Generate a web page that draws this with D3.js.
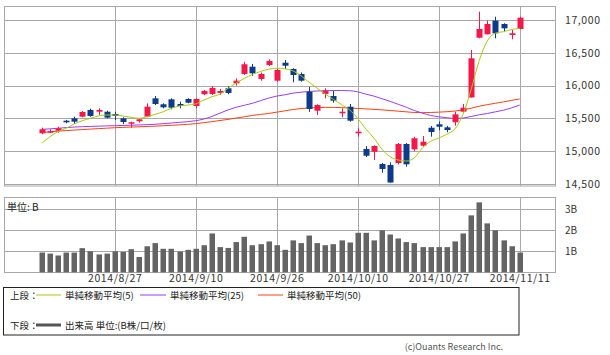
<!DOCTYPE html>
<html><head><meta charset="utf-8">
<script src="https://cdn.jsdelivr.net/npm/d3@7"></script>
<style>
html,body{margin:0;padding:0;background:#fff;}
svg{display:block;}
text{font-family:"Noto Sans CJK JP","Noto Sans",sans-serif;}
</style></head><body>
<svg id="c" width="610" height="355"></svg>
<script>
const dates = ["2014/8/14","2014/8/15","2014/8/18","2014/8/19","2014/8/20","2014/8/21","2014/8/22","2014/8/25","2014/8/26","2014/8/27",
"2014/8/28","2014/8/29","2014/9/1","2014/9/2","2014/9/3","2014/9/4","2014/9/5","2014/9/8","2014/9/9","2014/9/10",
"2014/9/11","2014/9/12","2014/9/16","2014/9/17","2014/9/18","2014/9/19","2014/9/22","2014/9/24","2014/9/25","2014/9/26",
"2014/9/29","2014/9/30","2014/10/1","2014/10/2","2014/10/3","2014/10/6","2014/10/7","2014/10/8","2014/10/9","2014/10/10",
"2014/10/14","2014/10/15","2014/10/16","2014/10/17","2014/10/20","2014/10/21","2014/10/22","2014/10/23","2014/10/24","2014/10/27",
"2014/10/28","2014/10/29","2014/10/30","2014/10/31","2014/11/4","2014/11/5","2014/11/6","2014/11/7","2014/11/10","2014/11/11"];
const opens = [15273,15295,15312,15465,15501,15526,15628,15602,15602,15567,15501,15420,15456,15526,15806,15715,15791,15720,15796,15689,
15868,15872,15888,15959,16035,16177,16288,16101,16314,16075,16349,16253,16177,15907,15617,15872,15841,15578,15678,15273,
15034,14992,14805,14790,14820,15110,15029,15084,15358,15410,15364,15441,15602,15819,16730,16782,16990,16939,16771,16863];
const highs = [15358,15334,15373,15476,15526,15613,15648,15654,15617,15602,15517,15450,15495,15730,15841,15730,15806,15755,15806,15806,
15933,15990,15950,15990,16110,16364,16330,16200,16400,16260,16390,16264,16200,15980,15715,15959,15920,15654,15720,15349,
15079,15090,14820,14830,15125,15125,15220,15232,15384,15450,15384,15602,15720,16543,17127,16990,17050,16950,16848,17050];
const lows = [15258,15282,15282,15425,15415,15517,15526,15552,15501,15476,15415,15358,15435,15517,15704,15654,15639,15654,15730,15654,
15853,15857,15860,15870,16000,16162,16150,16075,16300,16060,16253,16050,16060,15600,15552,15806,15740,15517,15450,15221,
14912,14866,14672,14520,14800,14764,15000,15069,15221,15320,15290,15389,15590,15819,16721,16782,16721,16822,16706,16860];
const closes = [15334,15305,15349,15441,15450,15598,15537,15628,15511,15537,15445,15441,15486,15678,15720,15669,15663,15689,15739,15796,
15918,15964,15918,15888,16075,16325,16187,16177,16375,16238,16303,16162,16075,15643,15704,15922,15770,15602,15465,15298,
14931,15079,14729,14523,15110,14800,15197,15145,15293,15373,15323,15562,15663,16416,16863,16939,16797,16873,16797,17035];
const ma5 = [15120,15221,15298,15349,15415,15465,15501,15537,15552,15552,15537,15517,15501,15526,15562,15602,15654,15689,15704,15720,
15780,15830,15870,15960,16040,16110,16170,16215,16250,16265,16255,16225,16150,16050,15960,15870,15790,15710,15630,15500,
15340,15200,15030,14916,14866,14850,14900,15050,15150,15200,15260,15340,15560,15940,16380,16680,16800,16822,16855,16873];
const ma25 = [15334,15340,15350,15360,15368,15374,15378,15382,15386,15389,15392,15396,15400,15405,15410,15420,15430,15440,15450,15465,
15490,15530,15580,15630,15670,15700,15730,15770,15810,15840,15860,15885,15900,15910,15918,15922,15925,15925,15922,15905,
15870,15840,15800,15760,15715,15670,15620,15580,15545,15525,15510,15500,15505,15530,15555,15575,15600,15625,15660,15704];
const ma50 = [15285,15295,15305,15315,15322,15330,15337,15344,15351,15358,15363,15368,15372,15377,15382,15388,15395,15402,15410,15420,
15435,15450,15468,15485,15505,15525,15545,15560,15575,15595,15615,15635,15650,15660,15665,15668,15668,15665,15658,15652,
15645,15638,15630,15620,15610,15600,15590,15588,15590,15595,15602,15612,15630,15655,15685,15710,15730,15752,15775,15796];
const volumes = [0.94,0.89,0.80,0.94,0.94,1.15,1.00,0.85,0.89,1.00,0.97,1.10,0.73,1.24,1.39,1.12,1.12,0.99,1.07,1.12,
1.29,1.85,1.20,1.16,1.44,1.69,1.29,1.34,1.47,1.29,1.07,1.52,1.39,1.75,1.39,1.29,1.34,1.52,1.42,1.88,
1.88,1.52,2.00,1.80,1.61,1.44,1.39,1.20,1.20,1.20,1.20,1.47,1.85,2.71,3.33,2.33,2.00,1.52,1.24,0.94];
const priceTicks = [14500,15000,15500,16000,16500,17000];
const volumeTicks = [1,2,3];
const dateTicks = ["2014/8/27","2014/9/10","2014/9/26","2014/10/10","2014/10/27","2014/11/11"];

const svg = d3.select("#c");
const L = 4, R = 555;
const x = d3.scaleLinear().domain([0, dates.length - 1]).range([41.8, 519.7]);
const y = d3.scaleLinear().domain([14500, 17000]).range([184, 20]);
const yv = d3.scaleLinear().domain([0, 3]).range([272.3, 209.3]);
const gridC = "#a8a8a8";
const fmt = d3.format(",");

// ---- top panel
const topG = svg.append("g");
topG.append("rect").attr("x", L + 0.5).attr("y", 6.5).attr("width", R - L).attr("height", 179.5)
  .attr("fill", "none").attr("stroke", gridC);
topG.selectAll(".hg").data(priceTicks).join("line")
  .attr("x1", L).attr("x2", R).attr("y1", d => Math.round(y(d)) + 0.5).attr("y2", d => Math.round(y(d)) + 0.5)
  .attr("stroke", gridC);
topG.selectAll(".vg").data(dateTicks).join("line")
  .attr("x1", d => Math.round(x(dates.indexOf(d))) + 0.5).attr("x2", d => Math.round(x(dates.indexOf(d))) + 0.5)
  .attr("y1", 6).attr("y2", 186).attr("stroke", gridC);
const yAxis = d3.axisRight(y).tickValues(priceTicks).tickFormat(fmt).tickSize(0).tickPadding(0);
const ya = svg.append("g").attr("transform", `translate(${R + 10},0)`).call(yAxis);
ya.select(".domain").remove();
ya.selectAll("text").attr("font-size", 10.5).attr("fill", "#333").attr("letter-spacing", "0.6px")
  .attr("font-family", '"Noto Sans CJK JP",sans-serif');

// MA lines
const line = arr => d3.line().x((d, i) => x(i)).y(d => y(d)).curve(d3.curveMonotoneX)(arr);
topG.append("path").attr("d", line(ma50)).attr("fill", "none").attr("stroke", "#ff4010").attr("stroke-width", 1);
topG.append("path").attr("d", line(ma25)).attr("fill", "none").attr("stroke", "#9a3cff").attr("stroke-width", 1);

// candles
const red = "#f5174a", blue = "#0e3a8c";
const cg = topG.append("g");
dates.forEach((d, i) => {
  const up = closes[i] >= opens[i];
  const col = up ? red : blue;
  const cx = Math.round(x(i)) + 0.5;
  cg.append("line").attr("x1", cx).attr("x2", cx).attr("y1", y(highs[i])).attr("y2", y(lows[i]))
    .attr("stroke", col).attr("stroke-width", 1);
  const y0 = y(Math.max(opens[i], closes[i])), y1 = y(Math.min(opens[i], closes[i]));
  cg.append("rect").attr("x", cx - 3).attr("width", 6)
    .attr("y", y0).attr("height", Math.max(1.5, y1 - y0)).attr("fill", col);
});
topG.append("path").attr("d", line(ma5)).attr("fill", "none").attr("stroke", "#a5cc10").attr("stroke-width", 1);

// ---- volume panel
const vp = svg.append("g");
vp.append("rect").attr("x", L + 0.5).attr("y", 197.5).attr("width", R - L).attr("height", 75)
  .attr("fill", "none").attr("stroke", gridC);
vp.selectAll(".hg").data(volumeTicks).join("line")
  .attr("x1", L).attr("x2", R).attr("y1", d => Math.round(yv(d)) + 0.5).attr("y2", d => Math.round(yv(d)) + 0.5)
  .attr("stroke", gridC);
vp.selectAll(".vg").data(dateTicks).join("line")
  .attr("x1", d => Math.round(x(dates.indexOf(d))) + 0.5).attr("x2", d => Math.round(x(dates.indexOf(d))) + 0.5)
  .attr("y1", 197).attr("y2", 273).attr("stroke", gridC);
vp.selectAll(".vb").data(volumes).join("rect")
  .attr("x", (d, i) => Math.round(x(i)) - 2.5).attr("width", 5.5)
  .attr("y", d => yv(d)).attr("height", d => yv(0) - yv(d)).attr("fill", "#646464");
const yvAxis = d3.axisRight(yv).tickValues(volumeTicks).tickFormat(d => d + "B").tickSize(0).tickPadding(0);
const yva = svg.append("g").attr("transform", `translate(${R + 10},0)`).call(yvAxis);
yva.select(".domain").remove();
yva.selectAll("text").attr("font-size", 10).attr("fill", "#333");
vp.append("text").attr("x", 7).attr("y", 211).attr("font-size", 10).attr("fill", "#222").text("単位: B");

// x axis labels
const xAxis = d3.axisBottom(x).tickValues(dateTicks.map(d => dates.indexOf(d)))
  .tickFormat(i => dates[i]).tickSize(0).tickPadding(0);
const xa = svg.append("g").attr("transform", "translate(0,275)").call(xAxis);
xa.select(".domain").remove();
xa.selectAll("text").attr("font-size", 10.5).attr("fill", "#333").attr("letter-spacing", "0.6px")
  .attr("font-family", '"Noto Sans CJK JP",sans-serif');

// ---- legend
const lg = svg.append("g");
lg.append("rect").attr("x", 3.5).attr("y", 287.5).attr("width", 515.5).attr("height", 47.5)
  .attr("fill", "none").attr("stroke", "#222");
const lt = (tx, ty, s) => lg.append("text").attr("x", tx).attr("y", ty).attr("font-size", 9.5).attr("fill", "#222").text(s);
lt(10, 298.5, "上段：");
lg.append("line").attr("x1", 36).attr("x2", 61).attr("y1", 295).attr("y2", 295).attr("stroke", "#a5cc10").attr("stroke-width", 1);
lt(65, 298.5, "単純移動平均(5)");
lg.append("line").attr("x1", 140).attr("x2", 166).attr("y1", 295).attr("y2", 295).attr("stroke", "#9a3cff").attr("stroke-width", 1);
lt(170, 298.5, "単純移動平均(25)");
lg.append("line").attr("x1", 258).attr("x2", 283).attr("y1", 295).attr("y2", 295).attr("stroke", "#ff4010").attr("stroke-width", 1);
lt(287, 298.5, "単純移動平均(50)");
lt(10, 328.5, "下段：");
lg.append("line").attr("x1", 36).attr("x2", 61).attr("y1", 325).attr("y2", 325).attr("stroke", "#555").attr("stroke-width", 3);
lt(65, 328.5, "出来高 単位:(B株/口/枚)");

svg.append("text").attr("x", 503).attr("y", 350).attr("text-anchor", "end").attr("font-size", 9)
  .attr("fill", "#555").text("(c)Ouants Research Inc.");
</script>
</body></html>
